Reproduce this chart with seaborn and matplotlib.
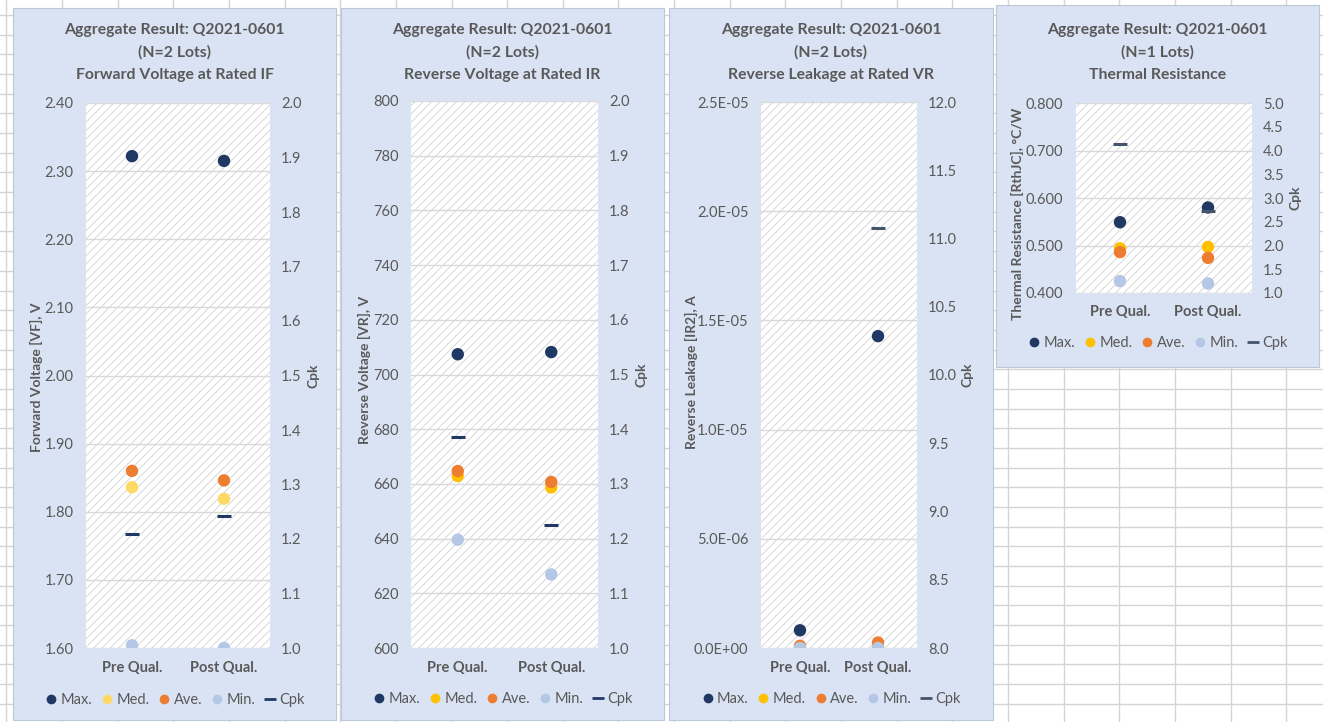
import numpy as np
import pandas as pd
import matplotlib
matplotlib.use("Agg")
import matplotlib.pyplot as plt
import seaborn as sns
from matplotlib.patches import Rectangle
from matplotlib.lines import Line2D
from matplotlib.ticker import FuncFormatter

# ---------------- data ----------------
stages = ["Pre Qual.", "Post Qual."]
series_names = ["Max.", "Med.", "Ave.", "Min."]

vf_max = [2.322, 2.315]
vf_med = [1.836, 1.819]
vf_ave = [1.860, 1.846]
vf_min = [1.604, 1.600]
vf_cpk = [1.210, 1.242]

vr_max = [707.4, 708.2]
vr_med = [662.9, 658.7]
vr_ave = [664.7, 660.7]
vr_min = [639.6, 626.9]
vr_cpk = [1.385, 1.224]

ir_max = [8.1e-7, 1.428e-5]
ir_med = [2e-8, 5e-8]
ir_ave = [1.0e-7, 2.5e-7]
ir_min = [0.0, 0.0]
ir_cpk = [np.nan, 11.08]

rth_max = [0.549, 0.580]
rth_med = [0.494, 0.497]
rth_ave = [0.486, 0.474]
rth_min = [0.425, 0.420]
rth_cpk = [4.13, 2.73]

titles = [
    "Aggregate Result: Q2021-0601\n(N=2 Lots)\nForward Voltage at Rated IF",
    "Aggregate Result: Q2021-0601\n(N=2 Lots)\nReverse Voltage at Rated IR",
    "Aggregate Result: Q2021-0601\n(N=2 Lots)\nReverse Leakage at Rated VR",
    "Aggregate Result: Q2021-0601\n(N=1 Lots)\nThermal Resistance",
]
ylabels = ["Forward Voltage [VF], V", "Reverse Voltage [VR], V",
           "Reverse Leakage [IR2], A", "Thermal Resistance [RthJC], °C/W"]

# ---------------- style ----------------
sns.set_theme(style="white")
plt.rcParams["font.family"] = ["Lato", "DejaVu Sans"]
plt.rcParams["hatch.linewidth"] = 0.6
GRAY = "#595959"
W, H = 1323, 722
fig = plt.figure(figsize=(W / 100, H / 100), dpi=100)
fig.patch.set_facecolor("white")


def fx(x):
    return x / W


def fy(y):
    return 1 - y / H


# spreadsheet grid behind the charts
for k in range(25):
    x = 6.3 + 55.65 * k
    fig.add_artist(Line2D([fx(x), fx(x)], [0, 1], color="#d4d4d4", lw=1.0, zorder=-5))
for k in range(37):
    y = 15 + 19.68 * k
    fig.add_artist(Line2D([0, 1], [fy(y), fy(y)], color="#d4d4d4", lw=1.0, zorder=-5))

panels = [
    dict(box=(13, 8, 336, 720), ax=(86, 103, 270, 648),
         data=(vf_max, vf_med, vf_ave, vf_min, vf_cpk),
         ylim=(1.6, 2.4), yticks=np.arange(1.6, 2.401, 0.1), fmt=lambda v, p: f"{v:.2f}",
         clim=(1.0, 2.0), cticks=np.arange(1.0, 2.001, 0.1),
         colors=["#1F3864", "#FFD966", "#ED7D31", "#B4C7E7"], cpkc="#1F3864",
         ylab_x=36, ylab_y=377, cpk_x=313, leg_y=700),
    dict(box=(341, 8, 664, 720), ax=(411, 101, 598, 648),
         data=(vr_max, vr_med, vr_ave, vr_min, vr_cpk),
         ylim=(600, 800), yticks=np.arange(600, 801, 20), fmt=lambda v, p: f"{v:.0f}",
         clim=(1.0, 2.0), cticks=np.arange(1.0, 2.001, 0.1),
         colors=["#1F3864", "#FFC000", "#ED7D31", "#B4C7E7"], cpkc="#1F3864",
         ylab_x=364, ylab_y=370, cpk_x=641, leg_y=699),
    dict(box=(669, 8, 993, 720), ax=(761, 102, 917, 648),
         data=(ir_max, ir_med, ir_ave, ir_min, ir_cpk),
         ylim=(0, 2.5e-5), yticks=np.arange(0, 2.51e-5, 0.5e-5), fmt=lambda v, p: f"{v:.1E}",
         clim=(8.0, 12.0), cticks=np.arange(8.0, 12.01, 0.5),
         colors=["#1F3864", "#FFC000", "#ED7D31", "#B4C7E7"], cpkc="#44546A",
         ylab_x=691, ylab_y=372, cpk_x=967, leg_y=699),
    dict(box=(996, 5, 1319, 367), ax=(1076, 103, 1252, 293),
         data=(rth_max, rth_med, rth_ave, rth_min, rth_cpk),
         ylim=(0.4, 0.8), yticks=np.arange(0.4, 0.801, 0.1), fmt=lambda v, p: f"{v:.3f}",
         clim=(1.0, 5.0), cticks=np.arange(1.0, 5.01, 0.5),
         colors=["#1F3864", "#FFC000", "#ED7D31", "#B4C7E7"], cpkc="#44546A",
         ylab_x=1017, ylab_y=214, cpk_x=1296, leg_y=343),
]

for i, P in enumerate(panels):
    bx0, by0, bx1, by1 = P["box"]
    fig.add_artist(Rectangle((fx(bx0), fy(by1)), fx(bx1 - bx0), (by1 - by0) / H,
                             transform=fig.transFigure, facecolor="#DAE3F3",
                             edgecolor="#bcc7d8", lw=0.8, zorder=-1))
    ax0, ay0, ax1, ay1 = P["ax"]
    ax = fig.add_axes([fx(ax0), fy(ay1), fx(ax1 - ax0), (ay1 - ay0) / H])
    ax.set_facecolor("white")
    ax.add_patch(Rectangle((0, 0), 1, 1, transform=ax.transAxes, facecolor="white",
                           edgecolor="#d2d2d2", hatch="////", lw=0, zorder=0.1))

    mx, md, av, mn, cpk = P["data"]
    df = pd.DataFrame({
        "stage": stages * 4,
        "series": [s for s in series_names for _ in stages],
        "value": list(mx) + list(md) + list(av) + list(mn),
    })
    sns.scatterplot(data=df, x="stage", y="value", hue="series", hue_order=series_names,
                    palette=P["colors"], s=80, edgecolor="none", legend=False, ax=ax, zorder=3)
    ax.set_xlim(-0.5, 1.5)
    ax.set_ylim(*P["ylim"])
    ax.set_yticks(P["yticks"])
    ax.yaxis.set_major_formatter(FuncFormatter(P["fmt"]))
    ax.grid(axis="y", color="#d9d9d9", lw=1.0)
    ax.grid(axis="x", visible=False)
    ax.set_axisbelow(True)
    for sp in ax.spines.values():
        sp.set_visible(False)
    ax.tick_params(axis="y", length=0, pad=9, labelsize=10.5, labelcolor=GRAY)
    ax.tick_params(axis="x", length=0, pad=9, labelsize=10.5, labelcolor=GRAY)
    for lab in ax.get_xticklabels():
        lab.set_fontweight("bold")
    ax.set_xlabel("")
    ax.set_ylabel("")

    ax2 = ax.twinx()
    dfc = pd.DataFrame({"stage": stages, "value": cpk})
    sns.scatterplot(data=dfc, x="stage", y="value", marker="_", s=90, linewidth=2.2,
                    color=P["cpkc"], legend=False, ax=ax2, zorder=4)
    ax2.set_ylim(*P["clim"])
    ax2.set_yticks(P["cticks"])
    ax2.yaxis.set_major_formatter(FuncFormatter(lambda v, p: f"{v:.1f}"))
    ax2.grid(False)
    for sp in ax2.spines.values():
        sp.set_visible(False)
    ax2.tick_params(axis="y", length=0, pad=8, labelsize=10.5, labelcolor=GRAY)
    ax2.set_xlim(-0.5, 1.5)
    ax2.set_ylabel("")
    ax2.set_xlabel("")

    cx = (bx0 + bx1) / 2
    fig.text(fx(cx), fy(23), titles[i], ha="center", va="top", fontsize=11.3,
             fontweight="bold", color=GRAY, linespacing=1.72)
    fig.text(fx(P["ylab_x"]), fy(P["ylab_y"]), ylabels[i], rotation=90,
             ha="center", va="center", fontsize=10, fontweight="bold", color=GRAY)
    fig.text(fx(P["cpk_x"]), fy((ay0 + ay1) / 2), "Cpk", rotation=90,
             ha="center", va="center", fontsize=10, fontweight="bold", color=GRAY)

    handles = [Line2D([], [], ls="", marker="o", markersize=7, markeredgewidth=0,
                      color=c) for c in P["colors"]]
    handles.append(Line2D([], [], ls="", marker="_", markersize=8, markeredgewidth=2,
                          color=P["cpkc"]))
    fig.legend(handles, series_names + ["Cpk"], loc="center",
               bbox_to_anchor=(fx(cx), fy(P["leg_y"])), ncol=5, frameon=False,
               fontsize=10.5, labelcolor=GRAY, handletextpad=0.2, columnspacing=0.55,
               handlelength=0.9)

fig.savefig("out.png", dpi=100, facecolor="white")
